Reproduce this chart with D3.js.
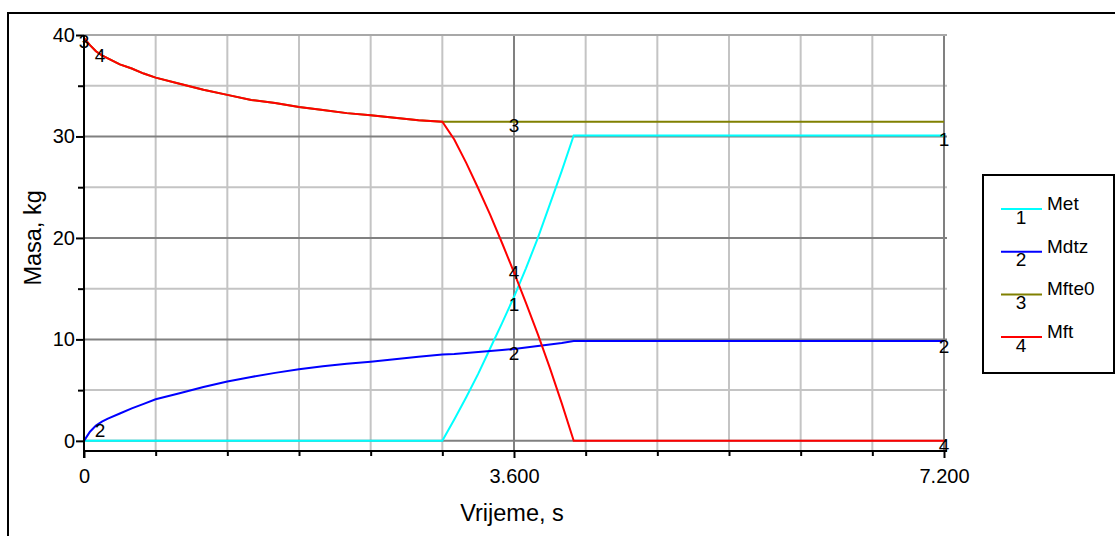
<!DOCTYPE html>
<html><head><meta charset="utf-8">
<script src="https://cdn.jsdelivr.net/npm/d3@7"></script>
<style>body{margin:0;background:#fff}svg{display:block;font-family:"Liberation Sans",Arial,sans-serif}</style>
</head><body>
<script>
// ---- data ----
const time   = [0,0.05,0.1,0.15,0.2,0.3,0.4,0.5,0.6,0.8,1.0,1.2,1.4,1.6,1.8,2.0,2.2,2.4,2.6,2.8,3.0,3.1,3.2,3.3,3.4,3.5,3.6,3.7,3.8,3.9,4.0,4.1,7.2];
const Met    = [0,0,0,0,0,0,0,0,0,0,0,0,0,0,0,0,0,0,0,0,0,2.1,4.3,6.6,9.1,11.6,14.2,17.0,20.0,23.3,26.6,30.1,30.1];
const Mdtz   = [0,0.9,1.5,1.9,2.2,2.7,3.2,3.65,4.1,4.7,5.3,5.85,6.3,6.7,7.05,7.35,7.6,7.8,8.05,8.3,8.5,8.55,8.65,8.75,8.85,8.95,9.05,9.2,9.35,9.5,9.65,9.85,9.85];
const Mfte0  = [39.7,39.0,38.4,38.0,37.7,37.1,36.7,36.2,35.8,35.2,34.6,34.1,33.6,33.3,32.9,32.6,32.3,32.1,31.85,31.6,31.45,31.45,31.45,31.45,31.45,31.45,31.45,31.45,31.45,31.45,31.45,31.45,31.45];
const Mft    = [39.7,39.0,38.4,38.0,37.7,37.1,36.7,36.2,35.8,35.2,34.6,34.1,33.6,33.3,32.9,32.6,32.3,32.1,31.85,31.6,31.45,29.7,27.4,24.9,22.3,19.5,16.6,13.6,10.5,7.2,3.7,0,0];
const seriesNames  = ["Met","Mdtz","Mfte0","Mft"];
const seriesColors = ["#00ffff","#0000ff","#808000","#ff0000"];
const xTickLabels = ["0","3.600","7.200"];
const xMajor = [0,3.6,7.2];
const yTickLabels = ["0","10","20","30","40"];
const yMajor = [0,10,20,30,40];
// curve number markers: [series index, time, dy]
const markers = [[0,3.6,8],[0,7.2,4],[1,0.134,8],[1,3.6,4],[1,7.2,6],[2,0,3],[2,3.6,4],[3,0.134,2],[3,3.6,0],[3,7.2,5]];

const W=1115,H=536;
const svg=d3.select("body").append("svg").attr("width",W).attr("height",H);
const x=d3.scaleLinear().domain([0,7.2]).range([84,944]);
const y=d3.scaleLinear().domain([-1,40]).range([451,35]);
const data=[Met,Mdtz,Mfte0,Mft];

// outer frame
svg.append("rect").attr("x",8).attr("y",13).attr("width",1200).attr("height",600)
  .attr("fill","none").attr("stroke","#000").attr("stroke-width",2);

// grid
const xMinor=d3.range(1,13).map(i=>+(i*0.6).toFixed(2)).filter(v=>!xMajor.includes(v));
const yMinor=[5,15,25,35];
const g=svg.append("g");
g.selectAll(".vx").data(xMinor).join("line").attr("x1",d=>x(d)).attr("x2",d=>x(d)).attr("y1",y(40)).attr("y2",y(-1))
  .attr("stroke","#c4c4c4").attr("stroke-width",2);
g.selectAll(".hy").data(yMinor).join("line").attr("x1",x(0)).attr("x2",x(7.2)+3).attr("y1",d=>y(d)).attr("y2",d=>y(d))
  .attr("stroke","#c4c4c4").attr("stroke-width",2);
g.selectAll(".vX").data(xMajor.slice(1)).join("line").attr("x1",d=>x(d)).attr("x2",d=>x(d)).attr("y1",y(40)).attr("y2",y(-1))
  .attr("stroke","#808080").attr("stroke-width",2);
g.selectAll(".hY").data(yMajor).join("line").attr("x1",x(0)).attr("x2",x(7.2)+3).attr("y1",d=>y(d)).attr("y2",d=>y(d))
  .attr("stroke",d=>d===40?"#a8a8a8":"#808080").attr("stroke-width",2);

// series
const line=d3.line().x((d,i)=>x(time[i])).y(d=>y(d));
data.forEach((s,k)=>{
  svg.append("path").datum(s).attr("d",line).attr("fill","none")
    .attr("stroke",seriesColors[k]).attr("stroke-width",2).attr("stroke-linejoin","miter");
});

// axes
const xa=svg.append("g").attr("transform",`translate(0,${y(-1)})`)
  .call(d3.axisBottom(x).tickValues(xMajor).tickSize(7).tickFormat((d,i)=>xTickLabels[i]).tickSizeOuter(0).tickPadding(11));
const xm=svg.append("g").attr("transform",`translate(0,${y(-1)})`)
  .call(d3.axisBottom(x).tickValues(xMinor).tickSize(5).tickFormat("").tickSizeOuter(0));
xm.select(".domain").remove();
const ya=svg.append("g").attr("transform",`translate(${x(0)},0)`)
  .call(d3.axisLeft(y).tickValues(yMajor).tickSize(8).tickFormat((d,i)=>yTickLabels[i]).tickSizeOuter(0).tickPadding(1));
const ym=svg.append("g").attr("transform",`translate(${x(0)},0)`)
  .call(d3.axisLeft(y).tickValues(yMinor).tickSize(6).tickFormat("").tickSizeOuter(0));
ym.select(".domain").remove();
[xa,xm,ya,ym].forEach(a=>{a.selectAll("line").attr("stroke","#000").attr("stroke-width",2);
  a.select(".domain").attr("stroke","#000").attr("stroke-width",2);
  a.selectAll("text").attr("font-size",20).attr("fill","#000").attr("font-family","Liberation Sans, Arial, sans-serif");});
xa.select(".domain").attr("d",`M${x(0)},0H${x(7.2)+3}`);
ya.select(".domain").attr("d",`M0,${y(40)}V${y(-1)+7}`);

// axis titles
svg.append("text").attr("x",(x(0)+x(7.2))/2-2).attr("y",521).attr("text-anchor","middle")
  .attr("font-size",23.5).text("Vrijeme, s");
svg.append("text").attr("transform",`translate(41,${(y(40)+y(0))/2}) rotate(-90)`).attr("text-anchor","middle")
  .attr("font-size",23.5).text("Masa, kg");

// curve markers
function valAt(arr,t){const i=d3.bisectLeft(time,t);if(time[i]===t)return arr[i];
  const i0=i-1;const f=(t-time[i0])/(time[i]-time[i0]);return arr[i0]+f*(arr[i]-arr[i0]);}
svg.selectAll(".mk").data(markers).join("text").attr("x",d=>x(d[1])).attr("y",d=>y(valAt(data[d[0]],d[1]))+d[2])
  .attr("text-anchor","middle").attr("dominant-baseline","central").attr("font-size",19).text(d=>d[0]+1);

// legend
const lg=svg.append("g");
lg.append("rect").attr("x",983).attr("y",175).attr("width",131).attr("height",198)
  .attr("fill","#fff").attr("stroke","#000").attr("stroke-width",2);
seriesNames.forEach((n,k)=>{
  const ly=209+k*42.7;
  lg.append("line").attr("x1",1001).attr("x2",1042).attr("y1",ly).attr("y2",ly).attr("stroke",seriesColors[k]).attr("stroke-width",2);
  lg.append("text").attr("x",1021).attr("y",ly+8).attr("text-anchor","middle").attr("dominant-baseline","central").attr("font-size",19).text(k+1);
  lg.append("text").attr("x",1047).attr("y",ly+1).attr("font-size",19).text(n);
});
</script>
</body></html>
